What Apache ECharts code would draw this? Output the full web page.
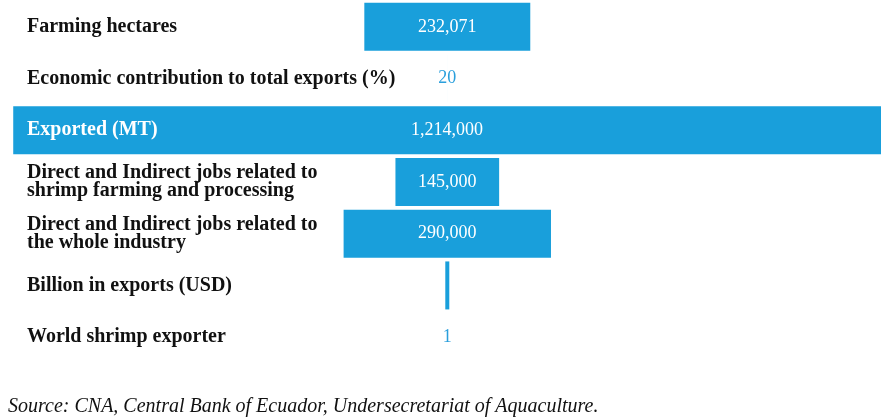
<!DOCTYPE html>
<html>
<head>
<meta charset="utf-8">
<script src="https://cdn.jsdelivr.net/npm/echarts@6/dist/echarts.min.js"></script>
<style>html,body{margin:0;padding:0;background:#fff}#c{width:881px;height:420px}</style>
</head>
<body>
<div id="c"></div>
<script>
const categories = [
  'Farming hectares',
  'Economic contribution to total exports (%)',
  'Exported (MT)',
  'Direct and Indirect jobs related to\nshrimp farming and processing',
  'Direct and Indirect jobs related to\nthe whole industry',
  'Billion in exports (USD)',
  'World shrimp exporter'
];
const values = [232071, 20, 1214000, 145000, 290000, 5600, 1];
const valueLabels = ['232,071', '20', '1,214,000', '145,000', '290,000', '', '1'];
const sourceText = 'Source: CNA, Central Bank of Ecuador, Undersecretariat of Aquaculture.';

const BLUE = '#199fdb';
const AXIS_MAX = 1232000;
const CENTER = 625500;
const LABEL_MARGIN = 27;

const chart = echarts.init(document.getElementById('c'));
const pxPerUnit = 881 / AXIS_MAX;

chart.setOption({
  animation: false,
  title: {
    text: sourceText,
    left: 3,
    top: 392,
    textStyle: {fontFamily: 'Liberation Serif', fontStyle: 'italic', fontWeight: 'normal', fontSize: 20, color: '#111'}
  },
  grid: {left: 0, right: 0, top: 1, bottom: 57, containLabel: false},
  xAxis: {type: 'value', min: 0, max: AXIS_MAX, show: false},
  yAxis: {
    type: 'category',
    inverse: true,
    data: categories,
    z: 10,
    axisLine: {show: false},
    axisTick: {show: false},
    splitLine: {show: false},
    axisLabel: {
      inside: true,
      margin: LABEL_MARGIN,
      align: 'left',
      fontFamily: 'Liberation Serif',
      fontWeight: 'bold',
      fontSize: 20,
      lineHeight: 18,
      color: function (v, i) {
        const left = (CENTER - values[i] / 2) * pxPerUnit;
        return left < LABEL_MARGIN ? '#ffffff' : '#111111';
      }
    }
  },
  series: [
    {
      type: 'bar',
      stack: 'a',
      silent: true,
      barWidth: 48,
      itemStyle: {color: 'transparent'},
      data: values.map(v => CENTER - v / 2)
    },
    {
      type: 'bar',
      stack: 'a',
      barWidth: 48,
      itemStyle: {color: BLUE},
      data: values.map((v, i) => ({
        value: v,
        label: {
          color: v * pxPerUnit > 30 ? '#ffffff' : '#2a9fdc'
        }
      })),
      label: {
        show: true,
        position: 'inside',
        fontFamily: 'Liberation Serif',
        fontSize: 18,
        formatter: p => valueLabels[p.dataIndex]
      }
    }
  ]
});
</script>
</body>
</html>
